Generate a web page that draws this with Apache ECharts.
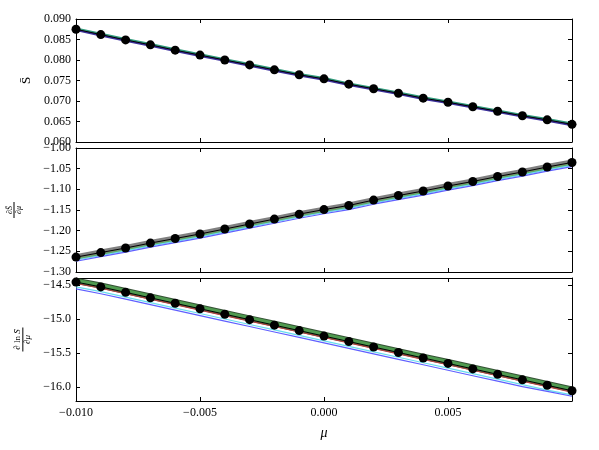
<!DOCTYPE html>
<html>
<head>
<meta charset="utf-8">
<script src="https://cdn.jsdelivr.net/npm/echarts@6/dist/echarts.min.js"></script>
<style>
  html, body { margin: 0; padding: 0; background: #fff; }
  #chart { width: 599px; height: 450px; }
</style>
</head>
<body>
<div id="chart"></div>
<script>
// x values (mu)
const mu = [-0.010, -0.009, -0.008, -0.007, -0.006, -0.005, -0.004, -0.003, -0.002, -0.001,
  0.000, 0.001, 0.002, 0.003, 0.004, 0.005, 0.006, 0.007, 0.008, 0.009, 0.010];

// panel 1: S bar
const sData = [0.0875, 0.0862, 0.0849, 0.0837, 0.0824, 0.0812, 0.0800, 0.0788, 0.0776, 0.0764,
  0.0754, 0.0741, 0.0730, 0.0719, 0.0707, 0.0697, 0.0686, 0.0675, 0.0664, 0.0654, 0.0643];
const sGreen = [0.0877, 0.0864, 0.0851, 0.0839, 0.0826, 0.0814, 0.0802, 0.0790, 0.0778, 0.0766,
  0.0756, 0.0743, 0.0732, 0.0721, 0.0709, 0.0699, 0.0688, 0.0677, 0.0666, 0.0656, 0.0645];
const sBlue = [0.0873, 0.0860, 0.0847, 0.0835, 0.0822, 0.0810, 0.0798, 0.0786, 0.0774, 0.0762,
  0.0752, 0.0739, 0.0728, 0.0717, 0.0705, 0.0695, 0.0684, 0.0673, 0.0662, 0.0652, 0.0641];

// panel 2: dS/dmu
const dData = [-1.264, -1.253, -1.242, -1.230, -1.219, -1.208, -1.196, -1.184, -1.172, -1.160,
  -1.149, -1.139, -1.126, -1.115, -1.104, -1.092, -1.081, -1.069, -1.058, -1.046, -1.035];
const dGreen = [-1.268, -1.257, -1.246, -1.234, -1.223, -1.212, -1.200, -1.188, -1.176, -1.164,
  -1.153, -1.143, -1.130, -1.119, -1.108, -1.096, -1.085, -1.073, -1.062, -1.050, -1.039];
const dCyan = [-1.271, -1.260, -1.249, -1.237, -1.226, -1.215, -1.203, -1.191, -1.179, -1.167,
  -1.156, -1.146, -1.133, -1.122, -1.111, -1.099, -1.088, -1.076, -1.065, -1.053, -1.042];
const dBlue = [-1.274, -1.263, -1.252, -1.240, -1.229, -1.218, -1.206, -1.194, -1.182, -1.170,
  -1.159, -1.149, -1.136, -1.125, -1.114, -1.102, -1.091, -1.079, -1.068, -1.056, -1.045];

// panel 3: dlnS/dmu
const lData = [-14.46, -14.53, -14.61, -14.69, -14.77, -14.85, -14.93, -15.01, -15.09, -15.17,
  -15.25, -15.33, -15.41, -15.49, -15.57, -15.65, -15.73, -15.81, -15.89, -15.97, -16.05];
const lGreen = [-14.44, -14.51, -14.59, -14.67, -14.75, -14.83, -14.91, -14.99, -15.07, -15.15,
  -15.23, -15.31, -15.39, -15.47, -15.55, -15.63, -15.71, -15.79, -15.87, -15.95, -16.03];
const lRed = [-14.48, -14.55, -14.63, -14.71, -14.79, -14.87, -14.95, -15.03, -15.11, -15.19,
  -15.27, -15.35, -15.43, -15.51, -15.59, -15.67, -15.75, -15.83, -15.91, -15.99, -16.07];
const lCyan = [-14.53, -14.60, -14.68, -14.76, -14.84, -14.92, -15.00, -15.08, -15.16, -15.24,
  -15.32, -15.40, -15.48, -15.56, -15.64, -15.72, -15.80, -15.88, -15.96, -16.04, -16.11];
const lBlue = [-14.56, -14.63, -14.71, -14.79, -14.87, -14.95, -15.03, -15.11, -15.19, -15.27,
  -15.35, -15.43, -15.51, -15.59, -15.67, -15.75, -15.83, -15.91, -15.99, -16.06, -16.13];

// tick values
const xTicks = [-0.010, -0.005, 0.000, 0.005];
const sTicks = [0.060, 0.065, 0.070, 0.075, 0.080, 0.085, 0.090];
const dTicks = [-1.30, -1.25, -1.20, -1.15, -1.10, -1.05, -1.00];
const lTicks = [-16.0, -15.5, -15.0, -14.5];

const FONT = "'Liberation Serif', 'DejaVu Serif', serif";
const pairs = ys => mu.map((x, i) => [x, ys[i]]);
const fmt = d => v => (v < 0 ? '\u2212' : '') + Math.abs(v).toFixed(d);

function xAx(grid, pos, labels) {
  return {
    type: 'value', gridIndex: grid, position: pos, min: -0.010, max: 0.010,
    axisLine: { show: true, onZero: false, lineStyle: { color: '#000', width: 1 } },
    axisTick: { show: true, inside: true, length: 4, customValues: xTicks, lineStyle: { color: '#000' } },
    axisLabel: { show: labels, customValues: xTicks, formatter: fmt(3), margin: 6,
      fontFamily: FONT, fontSize: 12, color: '#000' },
    splitLine: { show: false },
    name: labels ? 'μ' : '', nameLocation: 'middle', nameGap: 25,
    nameTextStyle: { fontFamily: FONT, fontStyle: 'italic', fontSize: 14, color: '#000' }
  };
}

function yAx(grid, pos, min, max, ticks, dec, name, gap, rich) {
  return {
    type: 'value', gridIndex: grid, position: pos, min: min, max: max,
    axisLine: { show: true, onZero: false, lineStyle: { color: '#000', width: 1 } },
    axisTick: { show: true, inside: true, length: 4, customValues: ticks, lineStyle: { color: '#000' } },
    axisLabel: { show: pos === 'left', customValues: ticks, formatter: fmt(dec), margin: 5,
      fontFamily: FONT, fontSize: 12, color: '#000' },
    splitLine: { show: false },
    name: pos === 'left' ? name : '', nameLocation: 'middle', nameGap: gap, nameRotate: 90,
    nameTextStyle: { fontFamily: FONT, fontSize: 13, color: '#000', rich: rich }
  };
}

const fracRich = {
  n: { fontFamily: FONT, fontStyle: 'italic', fontSize: 8, color: '#000', lineHeight: 7 },
  r: { fontFamily: FONT, fontSize: 8, color: '#000', lineHeight: 7 },
  b: { width: 16, height: 1, lineHeight: 2, backgroundColor: '#000' },
  d: { fontFamily: FONT, fontStyle: 'italic', fontSize: 8, color: '#000', lineHeight: 7 }
};
const fracRich3 = {
  n: { fontFamily: FONT, fontStyle: 'italic', fontSize: 9, color: '#000', lineHeight: 8 },
  r: { fontFamily: FONT, fontSize: 9, color: '#000', lineHeight: 8 },
  b: { width: 24, height: 1, lineHeight: 2, backgroundColor: '#000' },
  d: { fontFamily: FONT, fontStyle: 'italic', fontSize: 9, color: '#000', lineHeight: 8 }
};

function line(xi, ys, color, width, opacity, z) {
  return {
    type: 'line', xAxisIndex: xi, yAxisIndex: xi, data: pairs(ys), showSymbol: false,
    lineStyle: { color: color, width: width, opacity: opacity }, z: z, silent: true, animation: false
  };
}
function dots(xi, ys) {
  return {
    type: 'line', xAxisIndex: xi, yAxisIndex: xi, data: pairs(ys),
    symbol: 'circle', symbolSize: 9, showSymbol: true,
    itemStyle: { color: '#000' }, lineStyle: { color: '#000', width: 1 }, z: 10, animation: false
  };
}

const chart = echarts.init(document.getElementById('chart'));
chart.setOption({
  backgroundColor: '#fff',
  animation: false,
  grid: [
    { left: 76, right: 27, top: 19, height: 123, outerBoundsMode: 'none', containLabel: false },
    { left: 76, right: 27, top: 148, height: 124, outerBoundsMode: 'none', containLabel: false },
    { left: 76, right: 27, top: 278, height: 123, outerBoundsMode: 'none', containLabel: false }
  ],
  xAxis: [
    xAx(0, 'bottom', false), xAx(1, 'bottom', false), xAx(2, 'bottom', true),
    xAx(0, 'top', false), xAx(1, 'top', false), xAx(2, 'top', false)
  ],
  yAxis: [
    yAx(0, 'left', 0.060, 0.090, sTicks, 3, 'S\u0304', 38, {}),
    yAx(1, 'left', -1.30, -1.00, dTicks, 2, '{n|∂S\u0304}\n{b|}\n{d|∂μ}', 54, fracRich),
    yAx(2, 'left', -16.2, -14.4, lTicks, 1, '{n|∂}{r| ln }{n|S\u0304}\n{b|}\n{d|∂μ}', 43, fracRich3),
    yAx(0, 'right', 0.060, 0.090, sTicks, 3, '', 0, {}),
    yAx(1, 'right', -1.30, -1.00, dTicks, 2, '', 0, {}),
    yAx(2, 'right', -16.2, -14.4, lTicks, 1, '', 0, {})
  ],
  series: [
    // panel 1
    line(0, sGreen, '#2f9a7a', 2, 1, 2),
    line(0, sBlue, '#3b2f9a', 2, 1, 3),
    dots(0, sData),
    // panel 2
    line(1, dData, '#555555', 6, 0.75, 2),
    line(1, dGreen, '#5fae5f', 1.2, 1, 3),
    line(1, dCyan, '#66ddee', 1.2, 1, 3),
    line(1, dBlue, '#6060ff', 1.2, 1, 3),
    dots(1, dData),
    // panel 3
    line(2, lGreen, '#1f3f1f', 6, 0.9, 2),
    line(2, lGreen, '#4f9a4f', 4, 1, 3),
    line(2, lRed, '#b04040', 1.2, 1, 4),
    line(2, lCyan, '#66ddee', 1.2, 1, 4),
    line(2, lBlue, '#6060ff', 1.2, 1, 4),
    dots(2, lData)
  ]
});
</script>
</body>
</html>
